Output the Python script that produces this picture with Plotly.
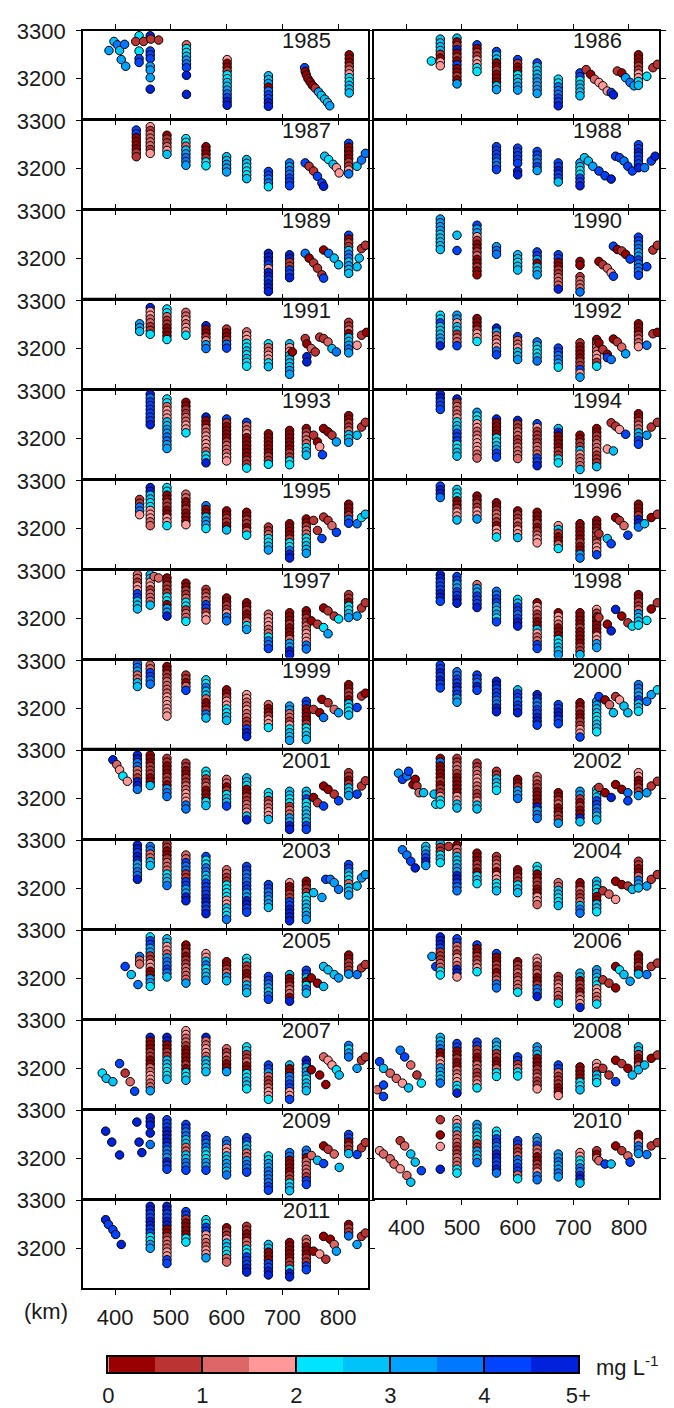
import plotly.graph_objects as go

# ---------------------------------------------------------------------------
# Profiles per survey year: (distance km, top elevation m, class string)
# Each character is one sample, taken every STEP_M metres downward from the
# top elevation; the digit is the concentration class (0.5 mg/L bins, 9 = 4.5-5+),
# '.' marks a depth with no sample.
# ---------------------------------------------------------------------------
STEP_M = 8

P1985 = [
    (443, 3290, "4...4.88"), (463, 3290, "9...888.66.6..9"),
    (389, 3259, "6"), (398, 3278, "5"), (404, 3271, "7"), (408, 3259, "5"), (411, 3240, "6"),
    (417, 3272, "7"), (419, 3226, "6"),
    (437, 3278, "1"), (451, 3278, "1"), (464, 3283, "1"), (478, 3281, "1"),
    (528, 3271, "2445678.9....9"), (601, 3240, "3001445567899"), (675, 3206, "556078899"),
    (740, 3223, "8"), (741, 3215, "0"), (743, 3208, "0"), (746, 3200, "0"), (750, 3193, "0"),
    (754, 3186, "0"), (759, 3180, "1"), (765, 3172, "6"), (770, 3165, "5"), (776, 3157, "5"),
    (781, 3150, "5"), (785, 3143, "6"),
    (820, 3250, "00012344555"),
]
P1986 = [
    (445, 3237, "4"), (461, 3283, "55551033"), (491, 3285, "5019010800106"),
    (527, 3271, "80113344"), (562, 3257, "85500100056"), (600, 3240, "810045566"),
    (635, 3233, "855566666"), (673, 3199, "44777889"), (712, 3212, "8845555"),
    (723, 3219, "1"), (731, 3209, "0"), (738, 3199, "2"), (746, 3192, "3"), (753, 3185, "3"),
    (761, 3174, "3"), (768, 3171, "8"), (772, 3166, "9"),
    (779, 3216, "1"), (787, 3212, "0"), (794, 3202, "6"), (802, 3192, "7"), (809, 3185, "6"),
    (817, 3250, "000113345"),
    (832, 3205, "4"), (843, 3223, "1"), (851, 3230, "1"),
]
P1987 = [
    (438, 3281, "88000011"), (463, 3288, "31222213"), (493, 3270, "011235"),
    (527, 3263, "44256776"), (563, 3246, "000144"), (600, 3225, "55666"),
    (636, 3219, "554445"), (675, 3194, "88774"), (713, 3212, "7677888"),
    (741, 3212, "8"), (748, 3205, "1"), (756, 3195, "1"), (763, 3184, "8"), (771, 3170, "8"),
    (774, 3163, "9"),
    (776, 3226, "5"), (783, 3219, "4"), (791, 3209, "5"), (797, 3202, "3"), (802, 3191, "3"),
    (819, 3253, "800001137"),
    (834, 3205, "5"), (842, 3218, "7"), (849, 3232, "7"),
]
P1988 = [
    (562, 3246, "8888778"), (600, 3243, "88888.99"), (635, 3236, "887786"),
    (673, 3212, "889885"), (712, 3212, "6544889"),
    (720, 3223, "5"), (727, 3216, "5"), (735, 3205, "6"), (746, 3195, "8"), (757, 3185, "8"),
    (768, 3178, "9"),
    (776, 3226, "8"), (783, 3223, "8"), (791, 3216, "7"), (798, 3205, "8"), (806, 3195, "8"),
    (817, 3250, "8898889"),
    (828, 3202, "7"), (840, 3216, "8"), (847, 3226, "9"),
]
P1989 = [
    (675, 3211, "99983998999"), (713, 3208, "9911889"),
    (741, 3211, "7"), (748, 3201, "0"), (756, 3191, "1"), (763, 3180, "1"), (771, 3166, "1"),
    (774, 3159, "8"),
    (774, 3218, "0"), (783, 3211, "7"), (793, 3201, "5"), (801, 3187, "5"),
    (819, 3249, "80115775655"),
    (834, 3183, "5"), (838, 3201, "5"), (842, 3221, "1"), (849, 3228, "1"),
]
P1990 = [
    (461, 3283, "666655555"), (491, 3249, "5...8"), (527, 3270, "86631001200100"),
    (562, 3225, "677"), (600, 3208, "55455"), (635, 3214, "8860556"),
    (673, 3208, "8800112229"), (712, 3194, "00..12227"),
    (746, 3194, "0"), (753, 3187, "1"), (761, 3180, "2"), (768, 3170, "3"), (772, 3163, "8"),
    (772, 3226, "8"), (779, 3219, "0"), (787, 3216, "1"), (794, 3209, "0"), (802, 3199, "8"),
    (817, 3245, "88776687778"),
    (832, 3183, "8"), (843, 3218, "1"), (851, 3228, "1"),
]
P1991 = [
    (444, 3252, "665"), (463, 3286, "93322114"), (493, 3283, "442110004"),
    (527, 3276, "2232334"), (563, 3248, "9001367"), (600, 3241, "100178"),
    (636, 3235, "2334454544"), (675, 3210, "4223345"), (713, 3210, "533555566"),
    (718, 3193, "0"),
    (741, 3221, "1"), (744, 3210, "0"), (752, 3200, "2"), (759, 3193, "1"), (744, 3183, "9"),
    (744, 3172, "9"),
    (767, 3224, "1"), (774, 3221, "1"), (782, 3214, "2"), (789, 3200, "5"), (797, 3193, "7"),
    (819, 3255, "112055676"),
    (834, 3207, "3"), (842, 3228, "1"), (851, 3234, "0"),
]
P1992 = [
    (461, 3270, "448555669"), (491, 3270, "663551228"), (527, 3263, "0001334"),
    (562, 3243, "96223378"), (600, 3225, "8223556"), (635, 3214, "754457"),
    (673, 3201, "887764"), (712, 3212, "1000011836"), (742, 3219, "01223314"),
    (746, 3212, "0"), (753, 3198, "1"), (761, 3188, "0"), (761, 3181, "8"), (768, 3177, "7"),
    (772, 3220, "0"), (779, 3214, "1"), (787, 3203, "2"), (794, 3189, "6"),
    (817, 3252, "0001223"),
    (832, 3207, "7"), (843, 3231, "1"), (851, 3234, "0"),
]
P1993 = [
    (463, 3293, "978888889"), (493, 3283, "44233355667766"), (527, 3276, "001122334"),
    (563, 3245, "9002233332449"), (600, 3241, "810000122233"), (636, 3234, "8223000000114"),
    (675, 3210, "000000114"), (713, 3217, "0000001144"), (743, 3221, "01222455"),
    (756, 3207, "1"), (763, 3193, "0"), (767, 3183, "3"), (772, 3166, "8"),
    (774, 3221, "0"), (782, 3214, "0"), (789, 3207, "1"), (797, 3193, "6"),
    (819, 3248, "00112556"),
    (834, 3207, "5"), (842, 3224, "1"), (849, 3234, "1"),
]
P1994 = [
    (461, 3293, "99888"), (491, 3283, "9122234558884455"), (527, 3255, "6443322333322"),
    (562, 3241, "90000445688"), (600, 3238, "91122112222"), (635, 3231, "831111222889"),
    (673, 3221, "5900001144"), (712, 3207, "0011532225"), (742, 3221, "00112221115"),
    (761, 3178, "3"), (772, 3174, "5"),
    (768, 3233, "1"), (776, 3226, "1"), (783, 3219, "3"), (794, 3209, "8"),
    (817, 3252, "001225688"),
    (832, 3207, "6"), (840, 3224, "1"), (851, 3234, "1"),
]
P1995 = [
    (444, 3261, "11773"), (463, 3286, "99554433322"), (493, 3286, "44001100334"),
    (527, 3272, "220010003"), (563, 3248, "7005664"), (600, 3237, "001105"),
    (636, 3234, "0011024"), (675, 3203, "1124456"), (713, 3210, "0000144799"),
    (743, 3220, "0012244556"),
    (756, 3217, "1"), (763, 3196, "1"), (771, 3179, "8"),
    (774, 3224, "1"), (782, 3217, "1"), (789, 3206, "2"), (797, 3192, "8"),
    (819, 3251, "000178"),
    (834, 3210, "7"), (842, 3223, "4"), (849, 3230, "5"),
]
P1996 = [
    (461, 3289, "8997"), (491, 3282, "544001335"), (527, 3268, "0011336"),
    (562, 3254, "0012210334"), (600, 3237, "01121335"), (635, 3234, "000101233"),
    (673, 3206, "3510024"), (712, 3210, "0000010067"), (742, 3217, "0001212338"),
    (746, 3189, "1"), (761, 3179, "5"), (768, 3168, "8"),
    (776, 3223, "0"), (783, 3217, "1"), (791, 3206, "2"), (798, 3186, "8"),
    (817, 3251, "0001997"),
    (828, 3210, "5"), (840, 3223, "0"), (851, 3230, "1"),
]
P1997 = [
    (440, 3292, "2213388555"), (463, 3292, "553312225"), (470, 3288, "2"), (478, 3285, "2"),
    (493, 3285, "00111440669"), (527, 3274, "00112441224"), (563, 3261, "112288133"),
    (600, 3243, "0011377"), (636, 3233, "00100246"), (675, 3209, "2333224778"),
    (713, 3212, "000100026699"), (743, 3216, "00112233377"),
    (752, 3195, "0"), (763, 3188, "1"), (774, 3181, "4"), (782, 3168, "6"),
    (774, 3222, "0"), (782, 3216, "1"), (793, 3205, "1"), (801, 3199, "4"),
    (819, 3250, "1104456"),
    (834, 3205, "6"), (842, 3222, "1"), (849, 3233, "1"),
]
P1998 = [
    (461, 3292, "99888998"), (491, 3288, "88668899"), (527, 3271, "2668889"),
    (562, 3257, "778865648"), (600, 3240, "45887899"), (635, 3233, "0331100532288"),
    (673, 3212, "033200044556"), (712, 3212, "000010000115"), (742, 3219, "31000003366"),
    (746, 3202, "1"), (761, 3188, "0"), (768, 3174, "9"),
    (776, 3219, "9"), (787, 3205, "0"), (798, 3191, "1"), (806, 3184, "4"),
    (817, 3250, "001126554"),
    (832, 3196, "4"), (840, 3220, "0"), (851, 3233, "1"),
]
P1999 = [
    (440, 3294, "7762255"), (463, 3291, "228877"), (493, 3288, "00112222333333"),
    (527, 3270, "11028"), (563, 3260, "44755200175"), (600, 3239, "001334455"),
    (636, 3229, "332232211899"), (675, 3208, "2001334"), (713, 3205, "6622134556"),
    (743, 3215, "88000014455"),
    (756, 3198, "1"), (767, 3191, "0"), (774, 3181, "7"),
    (771, 3219, "0"), (782, 3212, "1"), (793, 3198, "2"), (801, 3191, "6"),
    (819, 3250, "001105445"),
    (834, 3202, "8"), (842, 3226, "1"), (849, 3232, "0"),
]
P2000 = [
    (461, 3291, "8898988"), (491, 3277, "778898866"), (527, 3270, "88798"),
    (562, 3257, "998887799"), (600, 3239, "5887889"), (635, 3229, "997788998"),
    (673, 3208, "889988"), (712, 3212, "0010011338"), (742, 3215, "665544554"),
    (746, 3225, "8"), (757, 3218, "0"), (765, 3208, "2"), (772, 3191, "5"),
    (776, 3225, "1"), (783, 3218, "3"), (791, 3205, "5"), (798, 3191, "5"),
    (817, 3250, "77668554"),
    (832, 3215, "7"), (840, 3229, "6"), (851, 3239, "4"),
]
P2001 = [
    (396, 3281, "9"), (403, 3271, "2"), (408, 3260, "3"), (414, 3247, "4"), (422, 3236, "3"),
    (440, 3291, "9977221997"), (463, 3291, "000111005"), (493, 3284, "11000110677"),
    (527, 3274, "1100112233377"), (563, 3257, "4411200045"), (600, 3240, "22014558"),
    (636, 3243, "554001122359"), (675, 3212, "44122335"), (713, 3215, "55441226699"),
    (743, 3215, "55844555588"),
    (756, 3202, "0"), (763, 3191, "1"), (774, 3184, "8"),
    (774, 3226, "0"), (782, 3219, "0"), (793, 3209, "1"), (801, 3195, "8"),
    (819, 3254, "1101556"),
    (834, 3209, "8"), (842, 3226, "1"), (849, 3237, "1"),
]
P2002 = [
    (386, 3253, "6"), (393, 3240, "8"), (401, 3247, "7"), (404, 3257, "8"), (412, 3229, "0"),
    (416, 3240, "0"), (419, 3226, "1"), (423, 3212, "2"), (431, 3212, "5"), (450, 3209, "5"),
    (453, 3188, "4"),
    (461, 3284, "0700001011344"), (491, 3284, "11221000003355"), (527, 3274, "1122332211355"),
    (562, 3257, "115544"), (600, 3240, "001667"), (635, 3246, "221100009677"),
    (673, 3212, "001200116"), (712, 3215, "661010095"), (742, 3219, "445887755"),
    (746, 3223, "1"), (757, 3212, "0"), (768, 3202, "9"),
    (776, 3229, "0"), (787, 3219, "0"), (798, 3212, "7"), (798, 3195, "8"),
    (817, 3254, "3300116"),
    (832, 3212, "6"), (840, 3226, "1"), (851, 3236, "1"),
]
P2003 = [
    (440, 3291, "9989966779"), (463, 3288, "772255"), (493, 3294, "110012224557"),
    (527, 3270, "2287711886699"), (563, 3267, "8447755888899889"),
    (600, 3239, "22114444335447"), (636, 3246, "8877788669988"), (675, 3208, "8877665"),
    (713, 3212, "30011889999"), (743, 3215, "00114455566"),
    (756, 3191, "5"), (771, 3181, "6"),
    (778, 3219, "8"), (786, 3219, "7"), (793, 3212, "6"), (801, 3198, "7"),
    (819, 3250, "886442556"),
    (834, 3205, "5"), (842, 3222, "6"), (849, 3229, "6"),
]
P2004 = [
    (393, 3281, "7"), (401, 3270, "7"), (408, 3257, "8"), (416, 3243, "9"),
    (435, 3288, "557896"), (461, 3294, "511454"), (476, 3288, "1"),
    (491, 3291, "0225556699877"), (527, 3274, "000110454"), (562, 3267, "1122033445"),
    (600, 3239, "0011455"), (635, 3246, "44001100332"), (673, 3212, "2255445"),
    (712, 3212, "002112577"), (742, 3215, "554400554"),
    (753, 3195, "1"), (764, 3188, "2"), (776, 3177, "3"),
    (776, 3215, "0"), (787, 3208, "0"), (798, 3205, "1"), (806, 3198, "5"),
    (817, 3257, "11002765"),
    (832, 3205, "6"), (840, 3219, "1"), (851, 3229, "1"),
]
P2005 = [
    (418, 3225, "8"), (429, 3208, "5"), (441, 3187, "7"), (444, 3246, "722"),
    (463, 3287, "48866113300664"), (493, 3283, "55332677875"), (527, 3270, "00101122226"),
    (563, 3252, "33574556"), (600, 3235, "001265"), (636, 3242, "4411002565"),
    (675, 3204, "8876578"), (713, 3208, "50012209"), (743, 3217, "8850475"),
    (752, 3201, "0"), (763, 3190, "0"), (774, 3183, "5"),
    (774, 3225, "5"), (782, 3218, "5"), (793, 3208, "5"), (801, 3201, "6"),
    (819, 3249, "001116"),
    (834, 3208, "7"), (842, 3222, "1"), (849, 3229, "1"),
]
P2006 = [
    (446, 3246, "6"), (453, 3225, "8"),
    (461, 3287, "99981112244"), (491, 3283, "88221332993"), (527, 3270, "80011234"),
    (562, 3252, "8001101277"), (600, 3235, "011212224"), (635, 3242, "33112001779"),
    (673, 3204, "11232214"), (712, 3211, "5501102339"), (742, 3218, "6654433224"),
    (753, 3197, "1"), (764, 3190, "1"), (776, 3180, "0"),
    (776, 3225, "0"), (783, 3218, "4"), (791, 3208, "5"), (802, 3194, "6"),
    (817, 3249, "000105"),
    (832, 3208, "7"), (840, 3225, "1"), (851, 3232, "1"),
]
P2007 = [
    (377, 3190, "4"), (384, 3179, "5"), (396, 3172, "5"),
    (408, 3210, "8"), (418, 3190, "1"), (427, 3172, "2"), (435, 3152, "8"),
    (463, 3265, "900011002233226"), (493, 3265, "990011554445"),
    (527, 3279, "33221000010445"), (563, 3265, "9223325545"), (600, 3241, "2121006"),
    (636, 3245, "441120044554"), (675, 3207, "8862112334"), (713, 3207, "5007788338"),
    (743, 3217, "995664555"),
    (752, 3197, "0"), (767, 3186, "0"), (778, 3166, "0"),
    (774, 3224, "2"), (782, 3217, "3"), (789, 3207, "3"), (797, 3197, "4"), (802, 3186, "5"),
    (819, 3248, "7467"),
    (834, 3200, "6"), (842, 3217, "1"), (849, 3224, "1"),
]
P2008 = [
    (352, 3214, "8"), (359, 3200, "5"), (371, 3190, "2"), (382, 3179, "2"), (393, 3169, "3"),
    (404, 3159, "5"), (348, 3155, "2"), (359, 3165, "8"), (359, 3141, "8"),
    (389, 3238, "7"), (397, 3224, "8"), (408, 3207, "2"), (419, 3186, "1"), (427, 3169, "4"),
    (461, 3265, "5567003366557"), (491, 3252, "88001002233449"),
    (527, 3255, "8811002211234"), (562, 3255, "6551100244"), (600, 3224, "881244"),
    (635, 3245, "665000112113"), (673, 3207, "882111003"), (712, 3203, "0000445"),
    (742, 3210, "331554"),
    (753, 3200, "1"), (764, 3186, "1"), (776, 3172, "8"),
    (776, 3217, "0"), (787, 3210, "1"), (798, 3200, "0"), (806, 3186, "5"),
    (817, 3245, "5510025"),
    (828, 3207, "5"), (840, 3221, "0"), (851, 3228, "1"),
]
P2009 = [
    (383, 3257, "9"), (394, 3234, "9"), (408, 3207, "9"),
    (439, 3276, "9"), (443, 3234, "9"), (448, 3212, "9"),
    (463, 3285, "999.9..7"), (493, 3281, "88899998776988"), (527, 3271, "8877552255778"),
    (563, 3247, "8877544668"), (600, 3237, "7733556657"), (636, 3243, "8855226778"),
    (675, 3205, "4466777788"), (713, 3212, "77000011455"), (743, 3217, "7702222188"),
    (752, 3206, "2"), (763, 3196, "5"), (774, 3189, "8"),
    (774, 3226, "0"), (782, 3219, "1"), (793, 3209, "2"), (802, 3181, "5"),
    (819, 3250, "880115"),
    (834, 3208, "8"), (842, 3222, "1"), (849, 3233, "1"),
]
P2010 = [
    (352, 3216, "3"), (359, 3209, "2"), (371, 3199, "2"), (378, 3188, "2"), (389, 3178, "3"),
    (401, 3164, "2"), (408, 3150, "5"),
    (389, 3237, "1"), (397, 3226, "2"), (408, 3209, "5"), (416, 3192, "5"), (427, 3174, "8"),
    (461, 3281, "1...0..3.....9"), (491, 3281, "335522211122244"),
    (527, 3271, "66544116557"), (562, 3257, "448877998897"), (600, 3237, "88112778824"),
    (635, 3243, "668220011377"), (673, 3209, "6676676"), (712, 3212, "334477995"),
    (742, 3216, "102"),
    (746, 3195, "2"), (757, 3188, "8"), (768, 3188, "5"),
    (776, 3226, "0"), (787, 3216, "1"), (798, 3205, "2"), (802, 3192, "8"),
    (817, 3250, "003776"),
    (832, 3208, "7"), (840, 3226, "1"), (851, 3233, "1"),
]
P2011 = [
    (383, 3260, "9"), (388, 3250, "8"), (396, 3239, "8"), (401, 3229, "8"), (411, 3208, "9"),
    (463, 3288, "998899884466"), (493, 3288, "9988990012223388"), (527, 3277, "881000044"),
    (563, 3260, "44883322336"), (600, 3243, "0113554422"), (636, 3246, "1100224488899"),
    (675, 3208, "550008899"), (713, 3212, "0000011499"), (743, 3219, "220001188"),
    (756, 3194, "0"), (767, 3188, "3"), (778, 3177, "1"),
    (774, 3225, "0"), (786, 3219, "0"), (793, 3208, "2"), (797, 3194, "6"),
    (819, 3250, "0117"),
    (834, 3208, "6"), (842, 3225, "1"), (849, 3232, "1"),
]

YEARS = list(range(1985, 2012))
PANELS = [P1985, P1986, P1987, P1988, P1989, P1990, P1991, P1992, P1993, P1994,
          P1995, P1996, P1997, P1998, P1999, P2000, P2001, P2002, P2003, P2004,
          P2005, P2006, P2007, P2008, P2009, P2010, P2011]

# concentration classes (mg/L), 0.5 wide
CLASS_COLORS = ["#990000", "#bb3333", "#dd6666", "#ff9999", "#00e5ff",
                "#00c3f8", "#00a2ff", "#0078ff", "#0044ff", "#0022dd"]
CLASS_EDGES = [0, 0.5, 1, 1.5, 2, 2.5, 3, 3.5, 4, 4.5, 5]
SCALE_TICKS = [0, 1, 2, 3, 4, 5]
SCALE_TEXT = ["0", "1", "2", "3", "4", "5+"]

X_TICKS = [400, 500, 600, 700, 800]
Y_TICKS = [3200, 3300]
X_RANGE = [342.5, 854]
Y_RANGE = [3117.6, 3300]

# ---------------------------------------------------------------------------
W, H = 674, 1408
COL_X = [(79.3, 372.7), (379.0, 672.0)]
ROW_TOP0, ROW_PITCH, PANEL_H = 19.3, 91.4, 88.3
FONT = "Liberation Sans, Arial, sans-serif"
TXT = "#1a1a1a"


def px_x(p):
    return p / W


def px_y(p):
    return 1 - p / H


fig = go.Figure()
annotations = []
shapes = []

for i, (year, prof) in enumerate(zip(YEARS, PANELS)):
    row, col = divmod(i, 2)
    n = i + 1
    sfx = "" if n == 1 else str(n)
    top = ROW_TOP0 + row * ROW_PITCH
    bot = top + PANEL_H
    x0, x1 = COL_X[col]

    xs, ys, cs = [], [], []
    for x, ytop, codes in prof:
        for k, c in enumerate(codes):
            if c == ".":
                continue
            xs.append(x)
            ys.append(ytop - STEP_M * k)
            cs.append(CLASS_COLORS[int(c)])

    fig.add_trace(go.Scatter(
        x=xs, y=ys, mode="markers", xaxis="x" + sfx, yaxis="y" + sfx,
        marker=dict(size=8.5, color=cs, line=dict(color="black", width=1)),
        hoverinfo="skip", showlegend=False,
    ))

    last_in_col = (year == 2011) or (year == 2010)
    axis_common = dict(
        showline=True, linewidth=2, linecolor="black", mirror="ticks",
        ticks="outside", ticklen=5, tickwidth=1, tickcolor="black",
        showgrid=False, zeroline=False, fixedrange=True,
        tickfont=dict(family=FONT, size=22, color=TXT),
    )
    fig.update_layout(**{
        "xaxis" + sfx: dict(
            domain=[px_x(x0), px_x(x1)], range=X_RANGE, tickvals=X_TICKS,
            anchor="y" + sfx, showticklabels=last_in_col, ticklabelstandoff=4,
            **axis_common),
        "yaxis" + sfx: dict(
            domain=[px_y(bot), px_y(top)], range=Y_RANGE, tickvals=Y_TICKS,
            anchor="x" + sfx, showticklabels=(col == 0), ticklabelstandoff=6,
            **axis_common),
    })

    annotations.append(dict(
        text=str(year), xref="paper", yref="paper",
        x=px_x(x0 + 230), y=px_y(top + 10), xanchor="center", yanchor="middle",
        showarrow=False, font=dict(family=FONT, size=22, color=TXT),
    ))

# thick joins where neighbouring panel rows meet
for r in (2, 7):
    yb = ROW_TOP0 + r * ROW_PITCH + PANEL_H
    yt = ROW_TOP0 + (r + 1) * ROW_PITCH
    shapes.append(dict(type="rect", xref="paper", yref="paper",
                       x0=px_x(COL_X[0][0]), x1=px_x(COL_X[1][1]),
                       y0=px_y(yt), y1=px_y(yb),
                       fillcolor="black", line=dict(width=0), layer="above"))

# colour scale bar
cb_n = len(YEARS) + 1
cb_sfx = str(cb_n)
scale = []
for k, c in enumerate(CLASS_COLORS):
    scale.append([k / len(CLASS_COLORS), c])
    scale.append([(k + 1) / len(CLASS_COLORS), c])
fig.add_trace(go.Heatmap(
    z=[list(range(len(CLASS_COLORS)))], x=CLASS_EDGES, y=[0, 1],
    xaxis="x" + cb_sfx, yaxis="y" + cb_sfx, colorscale=scale,
    zmin=-0.5, zmax=len(CLASS_COLORS) - 0.5, showscale=False, hoverinfo="skip",
))
CB_L, CB_R, CB_T, CB_B = 105.3, 589.0, 1366.0, 1382.0
fig.update_layout(**{
    "xaxis" + cb_sfx: dict(
        domain=[px_x(CB_L), px_x(CB_R)], range=[0, 5], anchor="y" + cb_sfx,
        tickvals=SCALE_TICKS, ticktext=SCALE_TEXT, ticks="inside",
        ticklen=CB_B - CB_T, tickwidth=1.5, tickcolor="black",
        showline=True, linewidth=1.5, linecolor="black", mirror=True,
        showgrid=False, zeroline=False, fixedrange=True, ticklabelstandoff=2,
        tickfont=dict(family=FONT, size=22, color=TXT),
    ),
    "yaxis" + cb_sfx: dict(
        domain=[px_y(CB_B), px_y(CB_T)], range=[0, 1], anchor="x" + cb_sfx,
        showticklabels=False, ticks="", showline=True, linewidth=1.5,
        linecolor="black", mirror=True, showgrid=False, zeroline=False,
        fixedrange=True,
    ),
})

annotations.append(dict(
    text="(km)", xref="paper", yref="paper", x=px_x(40.7), y=px_y(1320),
    xanchor="center", yanchor="middle", showarrow=False,
    font=dict(family=FONT, size=22, color=TXT),
))
annotations.append(dict(
    text="mg L<sup>-1</sup>", xref="paper", yref="paper", x=px_x(605), y=px_y(1375),
    xanchor="left", yanchor="middle", showarrow=False,
    font=dict(family=FONT, size=22, color=TXT),
))

fig.update_layout(
    width=W, height=H, margin=dict(l=0, r=0, t=0, b=0),
    paper_bgcolor="white", plot_bgcolor="white", showlegend=False,
    annotations=annotations, shapes=shapes,
)

fig.write_html("out.html")
